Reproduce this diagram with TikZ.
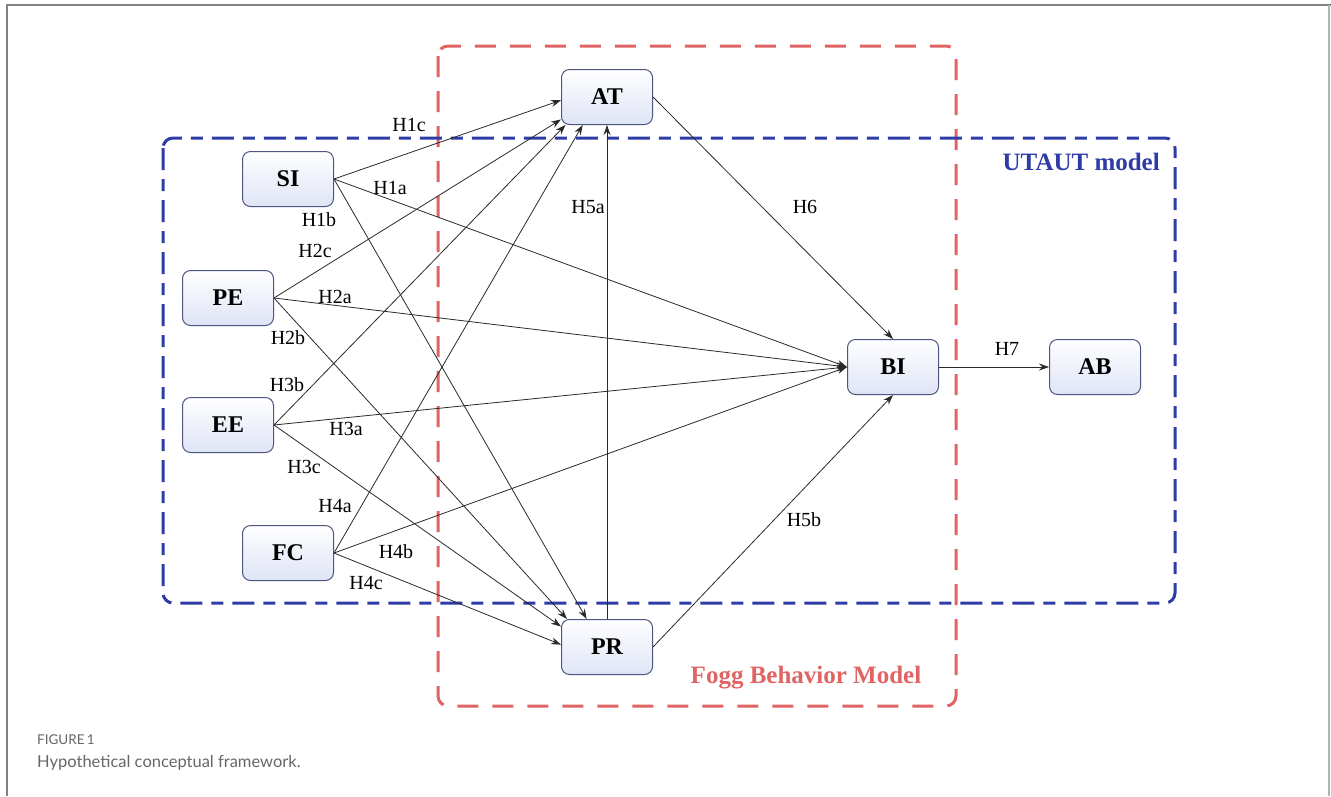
\documentclass[tikz,border=0pt]{standalone}
\usepackage{fontspec}
\setmainfont{Liberation Serif}
\newfontfamily\capfont{Lato}
\usetikzlibrary{arrows.meta}
\definecolor{utblue}{HTML}{2E3DA5}
\definecolor{foggred}{HTML}{E06464}
\definecolor{nodeborder}{HTML}{4E5580}
\definecolor{nodefill}{HTML}{DFE4F6}
\definecolor{edgecol}{HTML}{2A2A2A}
\definecolor{capgray}{HTML}{666666}
\definecolor{framegray}{HTML}{808080}
\tikzset{
  var/.style={draw=nodeborder, line width=1pt, rounded corners=8pt,
    top color=white, bottom color=nodefill, minimum width=91pt, minimum height=55pt,
    inner sep=0pt, font=\fontsize{24}{28}\selectfont\bfseries, text=black},
  hyp/.style={font=\fontsize{20}{24}\selectfont, text=black, inner sep=0pt},
  link/.style={draw=edgecol, line width=0.8pt, -{Stealth[length=10pt,width=7pt]}},
  utbox/.style={draw=utblue, line width=3pt, rounded corners=10pt,
    dash pattern=on 22pt off 9pt on 12pt off 9pt},
  foggbox/.style={draw=foggred, line width=3pt, rounded corners=10pt,
    dash pattern=on 21pt off 14pt},
  boxtitle/.style={font=\fontsize{25}{29}\selectfont\bfseries, inner sep=0pt},
}
\begin{document}
\begin{tikzpicture}[x=1pt, y=-1pt]
\useasboundingbox (0,0) rectangle (1331,796);
\fill[white] (0,0) rectangle (1331,796);
% frame
\draw[framegray, line width=1.2pt] (7,796) -- (7,5) -- (1331,5);
\draw[framegray!60, line width=1.2pt] (1329,5) -- (1329,796);

% model boxes
\draw[foggbox] (438,46) rectangle (956,706);
\draw[utbox] (163,138) rectangle (1175,603);
\node[boxtitle, text=utblue, anchor=east] (uttitle) at (1160,162) {UTAUT model};
\node[boxtitle, text=foggred] (foggtitle) at (806,678) {Fogg Behavior Model};

% nodes
\node[var] (AT) at (607,97) {AT};
\node[var] (SI) at (288,179) {SI};
\node[var] (PE) at (228,298) {PE};
\node[var] (EE) at (228,425) {EE};
\node[var] (FC) at (288,553) {FC};
\node[var] (PR) at (607,647) {PR};
\node[var] (BI) at (893,367) {BI};
\node[var] (AB) at (1095,367) {AB};

% connectors
\draw[link] (SI.east) -- (AT.184);
\draw[link] (SI.east) -- (BI.west);
\draw[link] (SI.east) -- (PR.126);
\draw[link] (PE.east) -- (AT.206);
\draw[link] (PE.east) -- (BI.west);
\draw[link] (PE.east) -- (PR.145);
\draw[link] (EE.east) -- (AT.214);
\draw[link] (EE.east) -- (BI.west);
\draw[link] (EE.east) -- (PR.156);
\draw[link] (FC.east) -- (AT.229);
\draw[link] (FC.east) -- (BI.west);
\draw[link] (FC.east) -- (PR.177);
\draw[link] (PR.north) -- (AT.south);
\draw[link] (PR.east) -- (BI.south);
\draw[link] (AT.east) -- (BI.north);
\draw[link] (BI.east) -- (AB.west);

% hypothesis labels
\node[hyp] (lH1c) at (409,125) {H1c};
\node[hyp] (lH1a) at (390,188) {H1a};
\node[hyp] (lH1b) at (319,220) {H1b};
\node[hyp] (lH2c) at (315,251) {H2c};
\node[hyp] (lH2a) at (335,297) {H2a};
\node[hyp] (lH2b) at (288,338) {H2b};
\node[hyp] (lH3b) at (287,385) {H3b};
\node[hyp] (lH3a) at (346,429) {H3a};
\node[hyp] (lH3c) at (304,467) {H3c};
\node[hyp] (lH4a) at (335,506) {H4a};
\node[hyp] (lH4b) at (396,552) {H4b};
\node[hyp] (lH4c) at (366,583) {H4c};
\node[hyp] (lH5a) at (588,207) {H5a};
\node[hyp] (lH6) at (805,207) {H6};
\node[hyp] (lH7) at (1007,349) {H7};
\node[hyp] (lH5b) at (804,520) {H5b};

% caption
\node[anchor=west, inner sep=0pt, text=capgray, font=\capfont\fontsize{13.5}{16}\selectfont] (figlabel) at (37,740) {FIGURE\,1};
\node[anchor=west, inner sep=0pt, text=capgray, font=\capfont\fontsize{16.5}{20}\selectfont] (figcap) at (37,763) {Hypothetical conceptual framework.};
\end{tikzpicture}
\end{document}
